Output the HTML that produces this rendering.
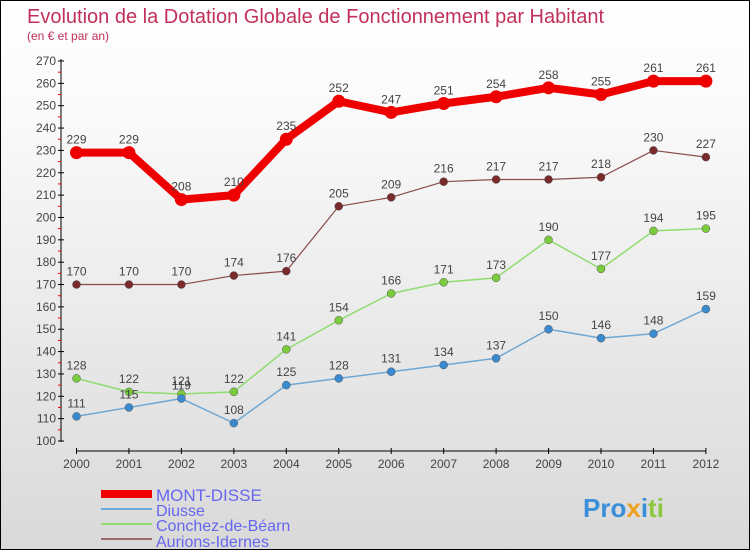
<!DOCTYPE html>
<html><head><meta charset="utf-8"><style>
body{margin:0}
#c{width:750px;height:550px;position:relative;overflow:hidden;background:linear-gradient(#fff,#fafafa 20%,#d9d9d9);border:1px solid #000;box-sizing:border-box;font-family:"Liberation Sans","DejaVu Sans",sans-serif}
</style></head><body>
<div id="c">
<svg id="s" width="750" height="550" style="position:absolute;left:0;top:0">
<text x="26" y="22" font-size="20" fill="#c0305a">Evolution de la Dotation Globale de Fonctionnement par Habitant</text>
<text x="26" y="39" font-size="12" fill="#c0305a">(en € et par an)</text>
<g id="ax"></g><g id="ser"></g>
<g>
<rect x="100" y="489" width="51" height="8" fill="#e00"/>
<text x="155" y="500" font-size="17" fill="#6666ee">MONT-DISSE</text>
<line x1="100" y1="508" x2="151" y2="508" stroke="#6fa8d4" stroke-width="2"/>
<text x="155" y="515" font-size="16" fill="#6666ee">Diusse</text>
<line x1="100" y1="523" x2="151" y2="523" stroke="#8fdc70" stroke-width="2"/>
<text x="155" y="530" font-size="16" fill="#6666ee">Conchez-de-Béarn</text>
<line x1="100" y1="538" x2="151" y2="538" stroke="#9a6a6a" stroke-width="2"/>
<text x="155" y="546" font-size="16" fill="#6666ee">Aurions-Idernes</text>
</g>
<text x="582" y="516" font-size="26" font-weight="bold" fill="#3a8fd8">Pro<tspan fill="#f0a020">x</tspan><tspan fill="#3a8fd8">i</tspan><tspan fill="#8cc83c">ti</tspan></text>
</svg></div>
<script>
const years=[2000,2001,2002,2003,2004,2005,2006,2007,2008,2009,2010,2011,2012];
const mont=[229,229,208,210,235,252,247,251,254,258,255,261,261];
const diusse=[111,115,119,108,125,128,131,134,137,150,146,148,159];
const conchez=[128,122,121,122,141,154,166,171,173,190,177,194,195];
const aurions=[170,170,170,174,176,205,209,216,217,217,218,230,227];
const yTicks=[100,110,120,130,140,150,160,170,180,190,200,210,220,230,240,250,260,270];
const NS="http://www.w3.org/2000/svg";
const X=i=>75.5+i*52.45, Y=v=>440-(v-100)*(380/170);
function el(t,a,p){const e=document.createElementNS(NS,t);for(const k in a)e.setAttribute(k,a[k]);p.appendChild(e);return e;}
const ax=document.getElementById('ax'), ser=document.getElementById('ser');
let l=el('line',{x1:60,y1:58,x2:60,y2:441,stroke:'#000'},ax);


l=el('line',{x1:75,y1:450,x2:705,y2:450,stroke:'#000'},ax);


yTicks.forEach((v,i)=>{
 el('line',{x1:57,y1:Y(v),x2:63,y2:Y(v),stroke:'#000'},ax);
 if(i<yTicks.length-1)el('line',{x1:57,y1:Y(v+5),x2:60,y2:Y(v+5),stroke:'#e00'},ax);
 const t=el('text',{x:55,y:Y(v)+4,'font-size':12,'text-anchor':'end',fill:'#444'},ax);t.textContent=v;
 
 
});
years.forEach((y,i)=>{
 el('line',{x1:X(i),y1:447,x2:X(i),y2:453,stroke:'#000'},ax);
 const t=el('text',{x:X(i),y:467,'font-size':12,'text-anchor':'middle',fill:'#444'},ax);t.textContent=y;
 
 
});
function series(d,col,dot,w,r,name){
 const g=el('g',{},ser);
 
 
 el('polyline',{points:d.map((v,i)=>X(i)+','+Y(v)).join(' '),fill:'none',stroke:col,'stroke-width':w,'stroke-linejoin':'round'},g);
 d.forEach((v,i)=>{
  const c=el('circle',{cx:X(i),cy:Y(v),r:r,fill:dot,stroke:w>3?'none':'#555','stroke-width':0.5},g);
  
  
  const t=el('text',{x:X(i),y:Y(v)-9,'font-size':12,'text-anchor':'middle',fill:'#444'},g);t.textContent=v;
  
  
 });
}
series(aurions,'#8a4a4a','#7a2a2a',1.2,4,'aurions');
series(conchez,'#8fdc70','#7acc3c',1.5,4,'conchez');
series(diusse,'#6fa8d4','#3a8ad0',1.5,4,'diusse');
series(mont,'#e00','#e00',8,6.5,'mont-disse');
</script>
</body></html>
